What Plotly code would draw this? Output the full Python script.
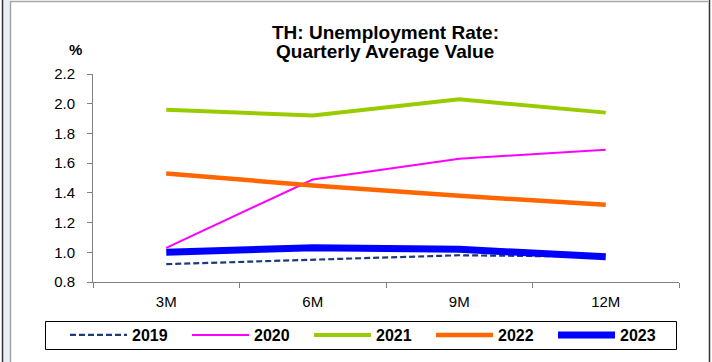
import plotly.graph_objects as go

categories = ["3M", "6M", "9M", "12M"]
s2019 = [0.92, 0.95, 0.98, 0.97]
s2020 = [1.03, 1.49, 1.63, 1.69]
s2021 = [1.96, 1.92, 2.03, 1.94]
s2022 = [1.53, 1.45, 1.38, 1.32]
s2023 = [1.00, 1.03, 1.02, 0.97]
series_names = ["2019", "2020", "2021", "2022", "2023"]
y_ticks = [0.8, 1.0, 1.2, 1.4, 1.6, 1.8, 2.0, 2.2]
title_lines = ["TH: Unemployment Rate:", "Quarterly Average Value"]
y_unit = "%"

W, H = 712, 362
L, R, T, B = 93, 33, 74, 80
PW, PH = W - L - R, H - T - B

def px(x):
    return (x - L) / PW

def py(y):
    return (H - B - y) / PH

FONT = "Liberation Sans, Arial, sans-serif"

styles = [
    dict(color="#1F3A78", width=2.2, dash="6px,3px"),
    dict(color="#FF00FF", width=2, dash="solid"),
    dict(color="#99CC00", width=4, dash="solid"),
    dict(color="#FF6600", width=4.5, dash="solid"),
    dict(color="#0000FF", width=7, dash="solid"),
]

fig = go.Figure()
for name, vals, st in zip(series_names, [s2019, s2020, s2021, s2022, s2023], styles):
    fig.add_trace(go.Scatter(x=categories, y=vals, mode="lines", name=name,
                             line=st, hoverinfo="skip"))

shapes = [
    # outer frame
    dict(type="rect", xref="paper", yref="paper", x0=px(3), x1=px(10), y0=py(362), y1=py(0),
         fillcolor="#E9EDF6", line=dict(width=0), layer="below"),
    dict(type="line", xref="paper", yref="paper", x0=px(2.5), x1=px(2.5), y0=py(362), y1=py(0),
         line=dict(color="#333333", width=1.5)),
    dict(type="line", xref="paper", yref="paper", x0=px(10.5), x1=px(10.5), y0=py(362), y1=py(1.5),
         line=dict(color="#A6A6A6", width=1.5)),
    dict(type="line", xref="paper", yref="paper", x0=px(10), x1=px(708), y0=py(1.5), y1=py(1.5),
         line=dict(color="#A6A6A6", width=1.5)),
    dict(type="line", xref="paper", yref="paper", x0=px(709.5), x1=px(709.5), y0=py(0), y1=py(362),
         line=dict(color="#333333", width=1.5)),
    # legend box
    dict(type="rect", xref="paper", yref="paper", x0=px(45.5), x1=px(676.5), y0=py(321.5), y1=py(349.5),
         line=dict(color="#000000", width=1), fillcolor="rgba(0,0,0,0)"),
]

annotations = [
    dict(text="<b>%s</b>" % title_lines[0], x=px(385), y=py(32), xref="paper", yref="paper",
         xanchor="center", yanchor="middle", showarrow=False,
         font=dict(size=19, family=FONT, color="#000000")),
    dict(text="<b>%s</b>" % title_lines[1], x=px(385), y=py(52), xref="paper", yref="paper",
         xanchor="center", yanchor="middle", showarrow=False,
         font=dict(size=19, family=FONT, color="#000000")),
    dict(text="<b>%s</b>" % y_unit, x=px(75), y=py(50), xref="paper", yref="paper",
         xanchor="center", yanchor="middle",
         showarrow=False, font=dict(size=15, family=FONT, color="#000000")),
]

fig.update_layout(
    width=W, height=H,
    margin=dict(l=L, r=R, t=T, b=B, autoexpand=False),
    paper_bgcolor="white", plot_bgcolor="white",
    font=dict(family=FONT, color="#000000", size=14),
    showlegend=True,
    hovermode=False,
    legend=dict(orientation="h", xref="paper", yref="paper",
                x=px(65), y=py(335), xanchor="left", yanchor="middle",
                borderwidth=0, bgcolor="rgba(0,0,0,0)", itemwidth=57, entrywidth=50,
                font=dict(size=16, family=FONT, color="#000000", weight="bold"),
                traceorder="normal", itemclick=False, itemdoubleclick=False),
    shapes=shapes,
    annotations=annotations,
)
fig.update_xaxes(type="category", range=[-0.5, 3.5], showline=True, linecolor="#808080",
                 linewidth=1, ticks="outside", tickson="boundaries", ticklen=5,
                 tickcolor="#808080", showgrid=False, zeroline=False, ticklabelstandoff=6,
                 tickfont=dict(size=15, family=FONT))
fig.update_yaxes(range=[0.8, 2.2], tickvals=y_ticks, tickformat=".1f", showline=True,
                 linecolor="#808080", linewidth=1, ticks="outside", ticklen=5,
                 tickcolor="#808080", showgrid=False, zeroline=False, ticklabelstandoff=9,
                 tickfont=dict(size=15, family=FONT))

fig.write_html("out.html", config={"displayModeBar": False, "staticPlot": True},
               post_script="document.body.style.margin='0';document.body.style.overflow='hidden';")
